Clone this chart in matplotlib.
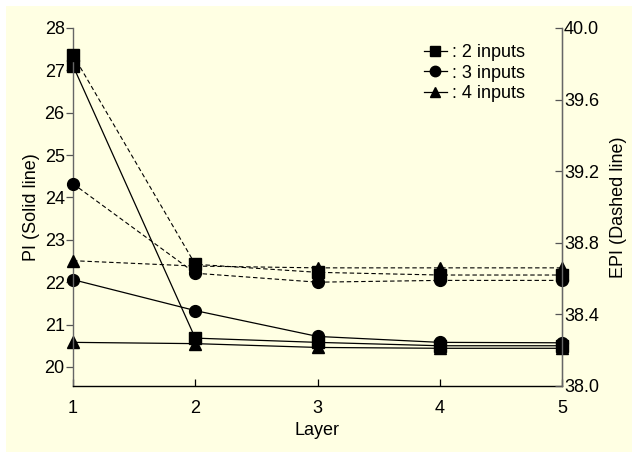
import matplotlib
matplotlib.use("Agg")
import matplotlib.pyplot as plt
from matplotlib.patches import Rectangle
from matplotlib.lines import Line2D

plt.rcParams['font.family'] = ['Liberation Sans', 'DejaVu Sans']

layers = [1, 2, 3, 4, 5]
series_labels = [": 2 inputs", ": 3 inputs", ": 4 inputs"]
series_markers = ["s", "o", "^"]

# PI values (solid lines, left axis)
pi_2 = [27.11, 20.68, 20.58, 20.50, 20.50]
pi_3 = [22.06, 21.33, 20.72, 20.58, 20.57]
pi_4 = [20.58, 20.55, 20.46, 20.44, 20.44]

# EPI values (dashed lines, right axis)
epi_2 = [39.85, 38.68, 38.635, 38.62, 38.62]
epi_3 = [39.13, 38.63, 38.58, 38.59, 38.59]
epi_4 = [38.70, 38.67, 38.66, 38.66, 38.66]

left_ticks = [20, 21, 22, 23, 24, 25, 26, 27, 28]
right_ticks = [38.0, 38.4, 38.8, 39.2, 39.6, 40.0]

W, H = 632, 454
fig = plt.figure(figsize=(W / 100, H / 100), dpi=100)
fig.patch.set_facecolor("white")
fig.patches.append(Rectangle((6 / W, 2 / H), 1 - 6 / W, 1 - 8 / H,
                             transform=fig.transFigure, facecolor="#FFFFE3",
                             edgecolor="none", zorder=-10))

ax = fig.add_axes([73 / W, 1 - 386 / H, (562 - 73) / W, (386 - 28) / H])
ax.set_facecolor("none")
ax2 = ax.twinx()
ax2.set_facecolor("none")

ms = 8.5
for vals, m in zip([epi_2, epi_3, epi_4], series_markers):
    ax2.plot(layers, vals, color="black", lw=0.8, ls=(0, (4, 2.5)),
             marker=m, ms=ms, mfc="black", mec="black", clip_on=False)
for vals, m in zip([pi_2, pi_3, pi_4], series_markers):
    ax.plot(layers, vals, color="black", lw=0.9, ls="-",
            marker=m, ms=ms, mfc="black", mec="black", clip_on=False)

ax.set_xlim(1, 5)
ax.set_ylim(19.55, 28)
ax2.set_ylim(38.0, 40.0)
ax.set_xticks(layers)
ax.set_yticks(left_ticks)
ax2.set_yticks(right_ticks)
ax2.set_yticklabels([f"{t:.1f}" for t in right_ticks])

fs = 13
ax.tick_params(axis="x", direction="in", length=5, width=0.9, pad=10, labelsize=fs)
ax.tick_params(axis="y", direction="out", length=5, width=0.9, colors="#555555",
               labelcolor="black", labelsize=fs, pad=1)
ax2.tick_params(axis="y", direction="in", length=5, width=0.9, colors="#555555",
                labelcolor="black", labelsize=fs, pad=1.5)

for a in (ax, ax2):
    a.spines["top"].set_visible(False)
ax.spines["left"].set_color("#666666")
ax.spines["bottom"].set_color("black")
ax2.spines["right"].set_color("#666666")
ax2.spines["left"].set_visible(False)
ax2.spines["bottom"].set_visible(False)
for s in ("left", "bottom"):
    ax.spines[s].set_linewidth(1.0)
ax2.spines["right"].set_linewidth(1.0)

ax.set_xlabel("Layer", fontsize=fs, labelpad=4)
ax.set_ylabel("PI (Solid line)", fontsize=fs, labelpad=3)
ax2.set_ylabel("EPI (Dashed line)", fontsize=fs, labelpad=8)

handles = [Line2D([0], [0], color="black", lw=0.9, marker=m, ms=ms - 1,
                  mfc="black", mec="black") for m in series_markers]
ax2.legend(handles, series_labels, loc="upper right", frameon=False,
           bbox_to_anchor=(0.94, 0.975), handlelength=1.3, handletextpad=0.3,
           labelspacing=0.2, fontsize=fs, borderaxespad=0)

fig.savefig("out.png", dpi=100)
